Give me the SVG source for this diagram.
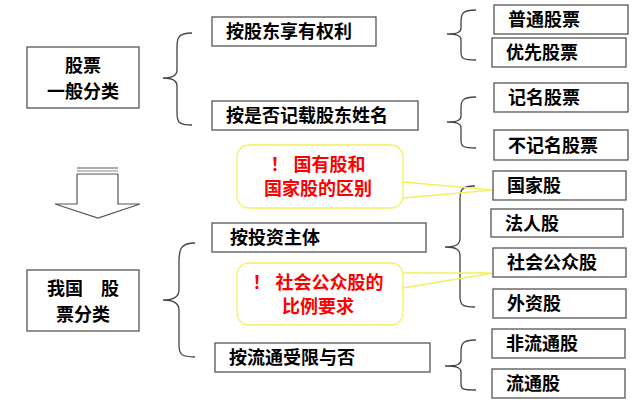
<svg xmlns="http://www.w3.org/2000/svg" width="640" height="404" viewBox="0 0 640 404">
<style>
.b{fill:#fff;stroke:#555;stroke-width:1.3}
.t{font-family:"Liberation Sans","Noto Sans CJK SC",sans-serif;font-size:18px;font-weight:bold;fill:#000}
.r{font-family:"Liberation Sans","Noto Sans CJK SC",sans-serif;font-size:18px;font-weight:bold;fill:#f00;text-anchor:middle}
.c{fill:#fff;stroke:#f3f060;stroke-width:1.3}
.br{fill:none;stroke:#444;stroke-width:1.3}
.p{fill:none;stroke:#f3f060;stroke-width:1.3}
</style>
<rect width="640" height="404" fill="#fff"/>
<g id="connectors">
<path class="br" d="M192,33 C175,33 177,40 177,55 L177,70 C177,76 172,78 163,78 C172,78 177,80 177,86 L177,112 C177,122 178,125 192,125"/>
<path class="br" d="M476,10 C462,10 461,14 461,22 L461,28 C461,32 458,34 447,34 C458,34 461,36 461,40 L461,52 C461,58 462,60 476,60"/>
<path class="br" d="M476,97 C462,97 461,101 461,108 L461,116 C461,120 458,122 447,122 C458,122 461,124 461,128 L461,140 C461,146 462,148 476,148"/>
<path class="br" d="M195,243 C180,243 179,250 179,262 L179,290 C179,297 174,300 163,300 C174,300 179,303 179,310 L179,345 C179,354 181,357 195,357"/>
<path class="br" d="M475,186 C461,186 460,190 460,200 L460,238 C460,244 457,247 445,247 C457,247 460,250 460,256 L460,296 C460,304 461,307 475,307"/>
<path class="br" d="M476,340 C462,340 461,344 461,352 L461,360 C461,364 458,366 445,366 C458,366 461,368 461,372 L461,384 C461,389 462,390 476,390"/>
<path class="p" d="M403,182 L493,190 L403,198"/>
<path class="p" d="M403,273 L493,273 L403,288"/>
</g>
<g id="arrow">
<path d="M77,174 L77,204 L55,204 L98,218 L140,204 L118,204 L118,174" fill="#fff" stroke="#555" stroke-width="1.2"/>
<line x1="77" y1="168" x2="118" y2="168" stroke="#555" stroke-width="1.2"/>
<line x1="77" y1="171" x2="118" y2="171" stroke="#888" stroke-width="1.2"/>
<line x1="77" y1="174" x2="118" y2="174" stroke="#555" stroke-width="1.2"/>
</g>
<g id="n1"><rect class="b" x="27" y="47" width="112" height="61"/><text class="t" x="83" y="72" text-anchor="middle">股票</text><text class="t" x="83" y="98" text-anchor="middle">一般分类</text></g>
<g id="n2"><rect class="b" x="27" y="270" width="112" height="61"/><text class="t" x="83" y="295" text-anchor="middle">我国　股</text><text class="t" x="83" y="321" text-anchor="middle">票分类</text></g>
<g id="m1"><rect class="b" x="212" y="17" width="164" height="29"/><text class="t" x="226" y="38">按股东享有权利</text></g>
<g id="m2"><rect class="b" x="212" y="101" width="206" height="29"/><text class="t" x="226" y="122">按是否记载股东姓名</text></g>
<g id="m3"><rect class="b" x="212" y="223" width="214" height="29"/><text class="t" x="230" y="244">按投资主体</text></g>
<g id="m4"><rect class="b" x="215" y="343" width="215" height="29"/><text class="t" x="229" y="364">按流通受限与否</text></g>
<g id="r1"><rect class="b" x="494" y="5" width="134" height="29"/><text class="t" x="508" y="26">普通股票</text></g>
<g id="r2"><rect class="b" x="492" y="38" width="134" height="29"/><text class="t" x="506" y="59">优先股票</text></g>
<g id="r3"><rect class="b" x="494" y="83" width="134" height="29"/><text class="t" x="508" y="104">记名股票</text></g>
<g id="r4"><rect class="b" x="494" y="130" width="134" height="30"/><text class="t" x="508" y="152">不记名股票</text></g>
<g id="r5"><rect class="b" x="493" y="171" width="133" height="29"/><text class="t" x="507" y="192">国家股</text></g>
<g id="r6"><rect class="b" x="491" y="209" width="132" height="28"/><text class="t" x="505" y="230">法人股</text></g>
<g id="r7"><rect class="b" x="493" y="248" width="133" height="29"/><text class="t" x="507" y="269">社会公众股</text></g>
<g id="r8"><rect class="b" x="493" y="289" width="133" height="29"/><text class="t" x="507" y="310">外资股</text></g>
<g id="r9"><rect class="b" x="492" y="329" width="133" height="29"/><text class="t" x="506" y="350">非流通股</text></g>
<g id="r10"><rect class="b" x="492" y="369" width="133" height="29"/><text class="t" x="506" y="390">流通股</text></g>
<g id="c1"><rect class="c" x="237" y="145" width="166" height="63" rx="12"/><text class="r" x="318" y="171">！ 国有股和</text><text class="r" x="318" y="195">国家股的区别</text></g>
<g id="c2"><rect class="c" x="237" y="263" width="166" height="62" rx="12"/><text class="r" x="318" y="289">！ 社会公众股的</text><text class="r" x="318" y="313">比例要求</text></g>
</svg>
